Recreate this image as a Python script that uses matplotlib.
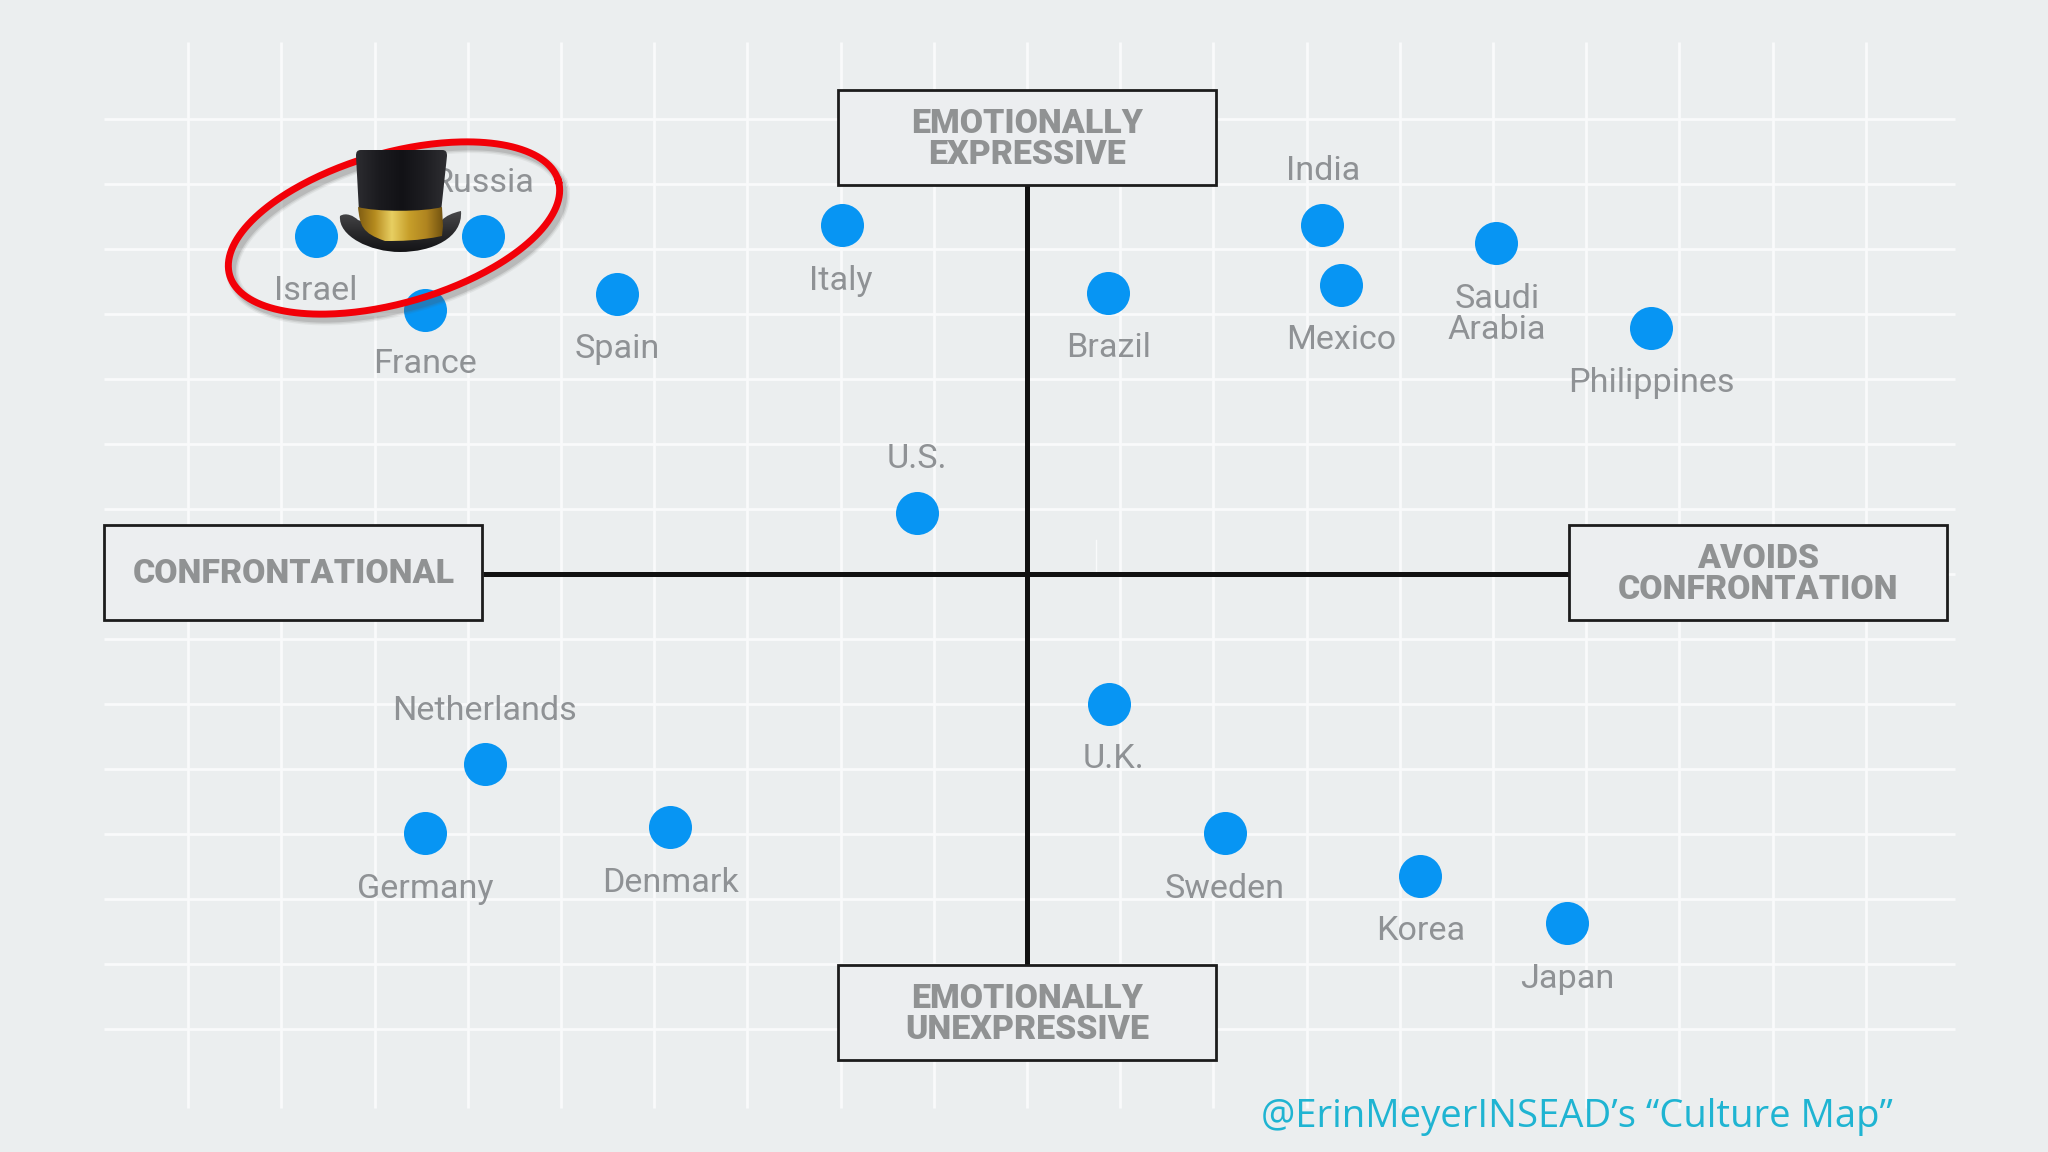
import numpy as np
import matplotlib
matplotlib.use("Agg")
import matplotlib.pyplot as plt
from matplotlib.colors import LinearSegmentedColormap
from matplotlib.patches import PathPatch, Rectangle
from matplotlib.path import Path

# country positions, in grid squares from the centre of the map
countries = ['Israel', 'Russia', 'France', 'Spain', 'Italy', 'Brazil', 'India', 'Mexico',
             'Saudi\nArabia', 'Philippines', 'U.S.', 'U.K.', 'Sweden', 'Korea', 'Japan',
             'Netherlands', 'Germany', 'Denmark']
confrontation = [-7.63, -5.84, -6.46, -4.40, -1.99, 0.87, 3.17, 3.37,
                 5.03, 6.70, -1.18, 0.88, 2.12, 4.22, 5.79,
                 -5.82, -6.46, -3.83]
expressiveness = [5.20, 5.20, 4.07, 4.31, 5.37, 4.33, 5.37, 4.45,
                  5.09, 3.79, 0.94, -2.00, -3.98, -4.65, -5.38,
                  -2.92, -3.98, -3.89]

# label offsets from the dot, in pixels
label_dx = [0, 0, 0, 0, -1, 0, 1, 0, 1, 0, 0, 4, 0, 0, 1, 0, 0, 0]
label_dy = [55, -53, 54, 55, 56, 55, -54, 55, 71, 55, -54, 55, 56, 55, 56, -53, 56, 56]

BG = '#ebeeef'
GREY = '#8f9295'
PX_X, PX_Y = 93.2, 64.95   # size of a grid square
CX, CY = 1027, 574         # centre of the map

fig = plt.figure(figsize=(20.48, 11.52), dpi=100, facecolor=BG)
ax = fig.add_axes([0, 0, 1, 1])
ax.set_xlim(-CX / PX_X, (2048 - CX) / PX_X)
ax.set_ylim((CY - 1152) / PX_Y, CY / PX_Y)
ax.axis('off')

# white grid
ax.vlines(np.arange(-9, 10), (CY - 1108) / PX_Y, (CY - 42) / PX_Y, color='#f9fafb', lw=2, zorder=1)
ax.hlines(np.arange(-7, 8), (104 - CX) / PX_X, (1955 - CX) / PX_X, color='#f9fafb', lw=2, zorder=1)
ax.plot([0.74, 0.74], [0, 0.52], color='#f9fafb', lw=1, zorder=1)

# axes of the map
hw, hh = 189 / PX_X, 47.5 / PX_Y
ax.plot([(483 - CX) / PX_X, (1569 - CX) / PX_X], [0, 0], color='#111111', lw=3.6, zorder=2, solid_capstyle='butt')
ax.plot([0, 0], [(CY - 965) / PX_Y, (CY - 185) / PX_Y], color='#111111', lw=3.6, zorder=2, solid_capstyle='butt')

boxes = [
    ('EMOTIONALLY\nEXPRESSIVE', 1027, 137.5),
    ('EMOTIONALLY\nUNEXPRESSIVE', 1027, 1012.5),
    ('CONFRONTATIONAL', 293.5, 572.5),
    ('AVOIDS\nCONFRONTATION', 1758, 572.5),
]
for label, bx, by in boxes:
    x0, y0 = (bx - CX) / PX_X, (CY - by) / PX_Y
    ax.add_patch(Rectangle((x0 - hw, y0 - hh), 2 * hw, 2 * hh, facecolor='#eceef0',
                           edgecolor='#1c1c1c', lw=2, zorder=3))
    ax.text(x0, y0 - 0.03, label, ha='center', va='center', color='#909293', fontsize=24.4,
            fontfamily='Roboto', fontweight='heavy', linespacing=0.98, zorder=4)

ax.scatter(confrontation, expressiveness, s=960, color='#0795f3', linewidths=0, zorder=5)

for name, x, y, dx, dy in zip(countries, confrontation, expressiveness, label_dx, label_dy):
    ax.annotate(name, (x, y), xytext=(dx * 0.72, -dy * 0.72), textcoords='offset points',
                ha='center', va='center', color=GREY, fontsize=24.6, fontfamily='Roboto',
                linespacing=0.98, zorder=6)

ax.text((1261 - CX) / PX_X, (CY - 1117) / PX_Y, '@ErinMeyerINSEAD\u2019s \u201cCulture Map\u201d',
        ha='left', va='center', color='#1fb4d2', fontsize=27.5, fontfamily='Open Sans', zorder=6)

# overlay in image pixels for the hand drawn ring and the hat
ov = fig.add_axes([0, 0, 1, 1], facecolor='none')
ov.set_xlim(0, 2048)
ov.set_ylim(1152, 0)
ov.axis('off')

t = np.linspace(0, 2 * np.pi, 300)
th = np.radians(-16)
ex = 394 + 171 * np.cos(t) * np.cos(th) - 75 * np.sin(t) * np.sin(th)
ey = 228 + 171 * np.cos(t) * np.sin(th) + 75 * np.sin(t) * np.cos(th)
for w, a in [(9, 0.08), (7, 0.12), (5, 0.18)]:
    ov.plot(ex + 4, ey + 5, color='#555555', lw=w, alpha=a, zorder=7)
ov.plot(ex, ey, color='#f20008', lw=5, zorder=8)


def shape(verts, codes, colors, extent, horizontal=True, zorder=9):
    patch = PathPatch(Path(verts, codes), facecolor='none', edgecolor='none', zorder=zorder)
    ov.add_patch(patch)
    cmap = LinearSegmentedColormap.from_list('g', colors)
    grad = np.linspace(0, 1, 256)
    grad = grad[None, :] if horizontal else grad[:, None]
    im = ov.imshow(grad, cmap=cmap, extent=extent, aspect='auto', zorder=zorder)
    im.set_clip_path(patch)


M, L, C, Z = Path.MOVETO, Path.LINETO, Path.CURVE4, Path.CLOSEPOLY

# brim
shape([(340, 216), (338, 236), (370, 252), (400, 252), (432, 252), (463, 238), (461, 211),
       (452, 213), (446, 216), (442, 220), (410, 228), (380, 228), (358, 220), (354, 216), (346, 212), (340, 216), (340, 216)],
      [M, C, C, C, C, C, C, C, C, C, C, C, C, C, C, C, Z],
      ['#4a4a4c', '#2a2a2c', '#111114'], (339, 463, 254, 210), horizontal=False)
# crown
shape([(361, 150), (357, 150), (356, 152), (356, 156), (359, 212), (441, 212), (447, 156), (447, 152), (446, 150), (442, 150), (361, 150)],
      [M, C, C, C, L, L, L, C, C, C, Z],
      ['#2c2c30', '#1b1b1f', '#121216', '#1d1d21', '#2e2e32'], (356, 447, 212, 150))
# gold band
shape([(358, 207), (375, 212), (425, 212), (442, 207), (443, 226), (442, 236), (418, 241), (400, 241), (385, 241), (362, 233), (360, 226), (358, 207)],
      [M, C, C, C, L, L, C, C, C, C, C, Z],
      ['#7c5a12', '#b48a1e', '#e8cf62', '#c79f2a', '#b08520', '#6f5010'], (357, 444, 242, 206))

fig.savefig('out.png', dpi=100, facecolor=BG)
